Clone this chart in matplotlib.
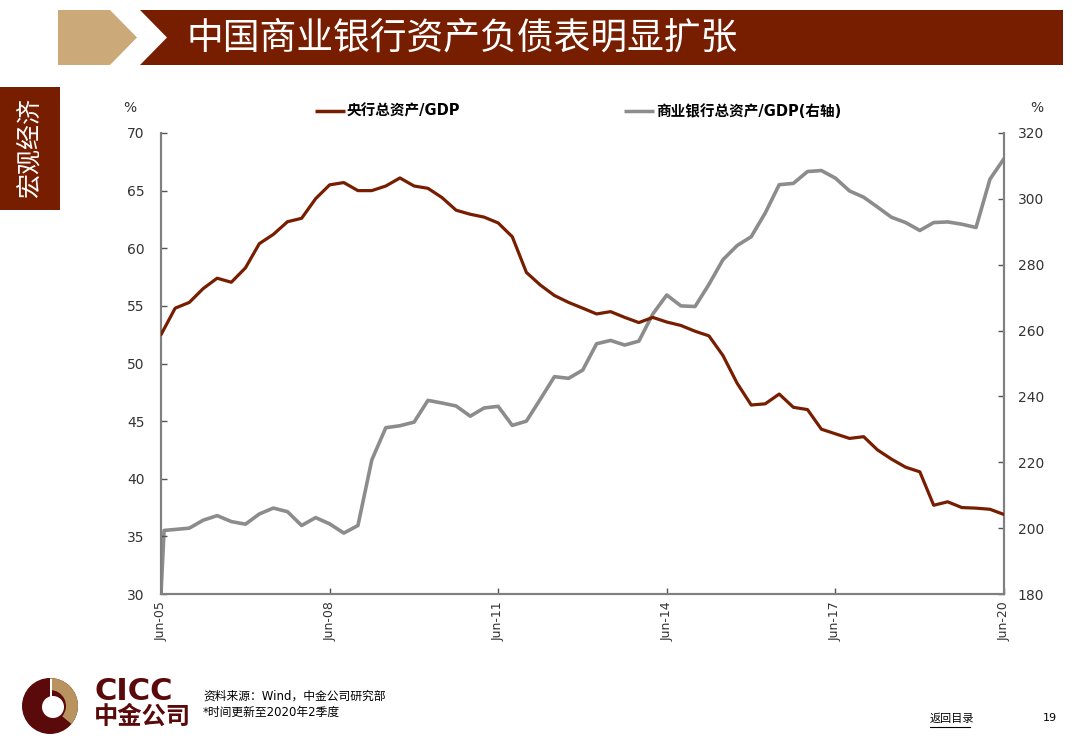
import numpy as np
import pandas as pd
import matplotlib
matplotlib.use("Agg")
import matplotlib.pyplot as plt
from matplotlib.patches import Polygon, Rectangle, Wedge, Circle

plt.rcParams['font.family'] = ['DejaVu Sans', 'Noto Sans CJK SC']

# quarterly data, Jun-05 .. Jun-20
dates = pd.date_range("2005-06-30", "2020-06-30", freq="QE")

pboc_assets_gdp = [
    52.5, 54.8, 55.3, 56.5, 57.4, 57.05, 58.3, 60.4, 61.2, 62.3,
    62.6, 64.3, 65.5, 65.7, 65.0, 65.0, 65.4, 66.1, 65.4, 65.2,
    64.4, 63.3, 62.95, 62.7, 62.2, 61.0, 57.9, 56.8, 55.9, 55.3,
    54.8, 54.3, 54.5, 54.0, 53.55, 54.0, 53.6, 53.3, 52.8, 52.4,
    50.7, 48.3, 46.4, 46.5, 47.35, 46.2, 46.0, 44.3, 43.9, 43.5,
    43.65, 42.5, 41.7, 41.0, 40.6, 37.7, 38.0, 37.5, 37.45, 37.35,
    36.9,
]

# commercial bank series starts with a jump right after Jun-05
bank_dates = [pd.Timestamp("2005-06-30"), pd.Timestamp("2005-07-20")] + list(dates[1:])
bank_assets_gdp = [
    180.0, 199.3,
    199.6, 200.0, 202.4, 203.8, 202.0, 201.2, 204.3, 206.1, 205.0,
    200.8, 203.2, 201.3, 198.5, 200.8, 220.7, 230.5, 231.1, 232.2, 238.8,
    238.0, 237.1, 234.0, 236.5, 237.0, 231.2, 232.5, 239.2, 246.0, 245.5,
    248.0, 256.0, 257.0, 255.6, 256.8, 265.0, 270.8, 267.5, 267.3, 274.0,
    281.5, 285.8, 288.5, 295.7, 304.3, 304.7, 308.3, 308.6, 306.3, 302.4,
    300.5, 297.5, 294.4, 292.8, 290.4, 292.8, 293.0, 292.3, 291.3, 306.0,
    312.2,
]

xtick_dates = pd.to_datetime(["2005-06-30", "2008-06-30", "2011-06-30",
                              "2014-06-30", "2017-06-30", "2020-06-30"])
left_ticks = np.arange(30, 71, 5)
right_ticks = np.arange(180, 321, 20)

label_pboc = "央行总资产/GDP"
label_bank = "商业银行总资产/GDP(右轴)"
title = "中国商业银行资产负债表明显扩张"

red = "#781E00"
gray = "#8C8C8C"
tan = "#CBA979"
logo_red = "#5A0A0A"
axis_gray = "#808080"
W, H = 1080, 754

fig = plt.figure(figsize=(W / 100, H / 100), dpi=100)

# page decoration in pixel coordinates
bg = fig.add_axes([0, 0, 1, 1])
bg.set_xlim(0, W)
bg.set_ylim(H, 0)
bg.axis("off")

bg.add_patch(Polygon([(58, 10), (110, 10), (137, 37.5), (110, 65), (58, 65)],
                     closed=True, color=tan, lw=0))
bg.add_patch(Polygon([(140, 10), (1063, 10), (1063, 65), (140, 65), (167, 37.5)],
                     closed=True, color=red, lw=0))
bg.text(187, 38, title, color="white", fontsize=26.5, va="center", ha="left",
        family=["Noto Sans CJK SC"])

bg.add_patch(Rectangle((0, 87), 60, 123, color=red, lw=0))
bg.text(30, 148, "宏观经济", color="white", fontsize=18, rotation=90,
        va="center", ha="center", family=["Noto Sans CJK SC"])

# legend
bg.plot([315, 345], [111, 111], color=red, lw=2.5, solid_capstyle="butt")
bg.text(347, 111, label_pboc, fontsize=10.5, fontweight="bold", va="center")
bg.plot([624, 654], [111, 111], color=gray, lw=2.5, solid_capstyle="butt")
bg.text(656, 111, label_bank, fontsize=10.5, fontweight="bold", va="center")
bg.text(130, 108, "%", fontsize=10, color="#333333", va="center", ha="center")
bg.text(1037, 108, "%", fontsize=10, color="#333333", va="center", ha="center")

# logo (y axis is flipped here, so angles are mirrored)
logo_c = (50, 706)
bg.add_patch(Circle(logo_c, 28, color=logo_red, lw=0))
bg.add_patch(Wedge(logo_c, 28, -90, 40, width=12, color="#B8935F", lw=0))
bg.add_patch(Circle((53, 707), 11, color="white", lw=0))
bg.add_patch(Rectangle((50, 679), 2, 20, color="white", lw=0))
bg.text(94, 692, "CICC", color=logo_red, fontsize=22, fontweight="bold",
        va="center", ha="left")
bg.text(94, 717, "中金公司", color=logo_red, fontsize=17.5, fontweight="bold",
        va="center", ha="left", family=["Noto Sans CJK SC"])

bg.text(203, 696, "资料来源：Wind，中金公司研究部", fontsize=8.5, va="center")
bg.text(203, 712, "*时间更新至2020年2季度", fontsize=8.5, va="center")
bg.text(930, 719, "返回目录", fontsize=8, va="center")
bg.plot([930, 970], [727, 727], color="black", lw=0.8)
bg.text(1043, 718, "19", fontsize=8, va="center")

# chart
ax = fig.add_axes([161 / W, 1 - 594 / H, 843 / W, 461 / H])
ax2 = ax.twinx()

ax.plot(dates, pboc_assets_gdp, color=red, lw=2.3,
        solid_joinstyle="round", solid_capstyle="round", zorder=3)
ax2.plot(bank_dates, bank_assets_gdp, color=gray, lw=2.6,
         solid_joinstyle="round", solid_capstyle="round", zorder=2)
ax.set_zorder(ax2.get_zorder() + 1)
ax.patch.set_visible(False)

ax.set_xlim(dates[0], dates[-1])
ax.set_ylim(30, 70)
ax2.set_ylim(180, 320)
ax.set_yticks(left_ticks)
ax2.set_yticks(right_ticks)
ax.set_xticks(xtick_dates)
ax.set_xticklabels([d.strftime("%b-%y") for d in xtick_dates], rotation=90)

for a in (ax, ax2):
    for s in a.spines.values():
        s.set_color(axis_gray)
        s.set_linewidth(1.5)
    a.spines["top"].set_visible(False)
    a.tick_params(direction="in", length=4, width=1, color="#555555",
                  labelsize=10, labelcolor="#333333")
ax.tick_params(axis="x", labelsize=9, pad=5)
ax.tick_params(axis="y", pad=12)
ax2.tick_params(axis="y", pad=10)

fig.savefig("out.png", dpi=100)
